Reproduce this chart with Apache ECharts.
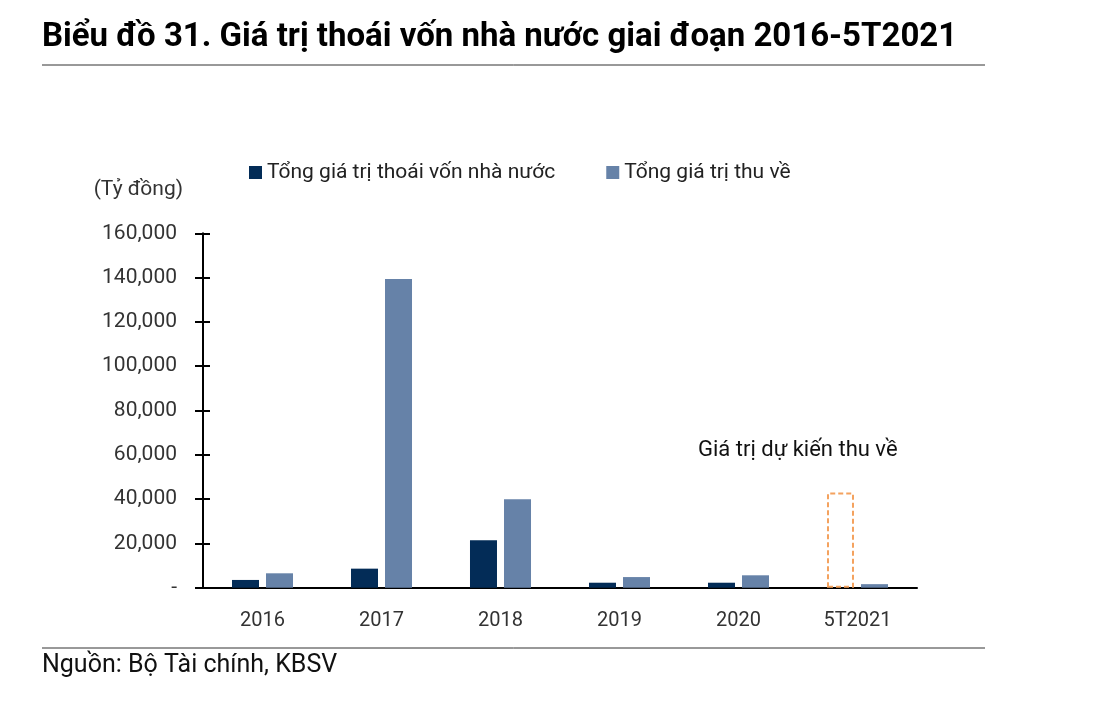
<!DOCTYPE html>
<html><head><meta charset="utf-8">
<script src="https://cdn.jsdelivr.net/npm/echarts@6/dist/echarts.min.js"></script>
<style>html,body{margin:0;padding:0;background:#fff}#c{width:1101px;height:725px}</style>
</head><body><div id="c"></div>
<script>
const categories = ['2016','2017','2018','2019','2020','5T2021'];
const divestTotal = [3500, 8600, 21400, 2250, 2250, 0];
const collected = [6500, 139400, 39900, 4800, 5600, 1600];
const expectedCollect = [null, null, null, null, null, 43000];
const yTicks = [0, 20000, 40000, 60000, 80000, 100000, 120000, 140000, 160000];

const FONT = 'Roboto';
const darkData = divestTotal.map((v, i) => expectedCollect[i] != null ? {
  value: expectedCollect[i],
  itemStyle: {color: 'rgba(0,0,0,0)', borderColor: '#f4a25e', borderWidth: 2, borderType: [5, 3]}
} : v);

const chart = echarts.init(document.getElementById('c'), null, {renderer: 'canvas'});
chart.setOption({
  animation: false,
  textStyle: {fontFamily: FONT},
  grid: {left: 203, right: 184, top: 233.3, bottom: 137.3},
  legend: {
    data: ['Tổng giá trị thoái vốn nhà nước', 'Tổng giá trị thu về'],
    left: 244, top: 157, itemWidth: 13, itemHeight: 13, itemGap: 51,
    icon: 'rect',
    textStyle: {fontSize: 21, color: '#222', fontFamily: FONT}
  },
  xAxis: {
    type: 'category', data: categories,
    axisLine: {lineStyle: {color: '#000', width: 2}},
    axisTick: {inside: true, length: 6, lineStyle: {color: '#000', width: 2}},
    axisLabel: {fontSize: 20, color: '#333', margin: 23, fontFamily: FONT}
  },
  yAxis: [{
    type: 'value', min: yTicks[0], max: yTicks[yTicks.length - 1], interval: yTicks[1] - yTicks[0],
    name: '(Tỷ đồng)', nameLocation: 'end', nameGap: 33,
    nameTextStyle: {fontSize: 21, color: '#333', align: 'right', padding: [0, 20, 0, 0], fontFamily: FONT},
    axisLine: {show: true, lineStyle: {color: '#000', width: 2}},
    axisTick: {show: true, length: 8, lineStyle: {color: '#000', width: 2}},
    splitLine: {show: false},
    axisLabel: {fontSize: 21, color: '#333', margin: 26, fontFamily: FONT,
      formatter: v => v === 0 ? '-' : v.toLocaleString('en-US')}
  }, {
    type: 'value', min: yTicks[0], max: yTicks[yTicks.length - 1], interval: yTicks[1] - yTicks[0],
    position: 'left', offset: 0,
    axisLine: {show: false},
    axisTick: {show: true, inside: true, length: 7, lineStyle: {color: '#000', width: 2}},
    splitLine: {show: false}, axisLabel: {show: false}
  }],
  series: [{
    name: 'Tổng giá trị thoái vốn nhà nước', type: 'bar', data: darkData,
    barWidth: 27, barGap: '26%', itemStyle: {color: '#032c57'}
  }, {
    name: 'Tổng giá trị thu về', type: 'bar', data: collected,
    barWidth: 27, itemStyle: {color: '#6682a8'}
  }],
  graphic: [
    {type: 'text', left: 42, top: 21, style: {text: 'Biểu đồ 31. Giá trị thoái vốn nhà nước giai đoạn 2016-5T2021', fontSize: 33, fontWeight: 'bold', fill: '#000', fontFamily: FONT}},
    {type: 'line', shape: {x1: 42, y1: 65, x2: 985, y2: 65}, style: {stroke: '#333', lineWidth: 1}},
    {type: 'line', shape: {x1: 42, y1: 648, x2: 985, y2: 648}, style: {stroke: '#333', lineWidth: 1}},
    {type: 'text', left: 42, top: 653, style: {text: 'Nguồn: Bộ Tài chính, KBSV', fontSize: 25, fill: '#111', fontFamily: FONT}},
    {type: 'text', left: 698, top: 439, style: {text: 'Giá trị dự kiến thu về', fontSize: 22, fill: '#111', fontFamily: FONT}}
  ]
});
</script></body></html>
